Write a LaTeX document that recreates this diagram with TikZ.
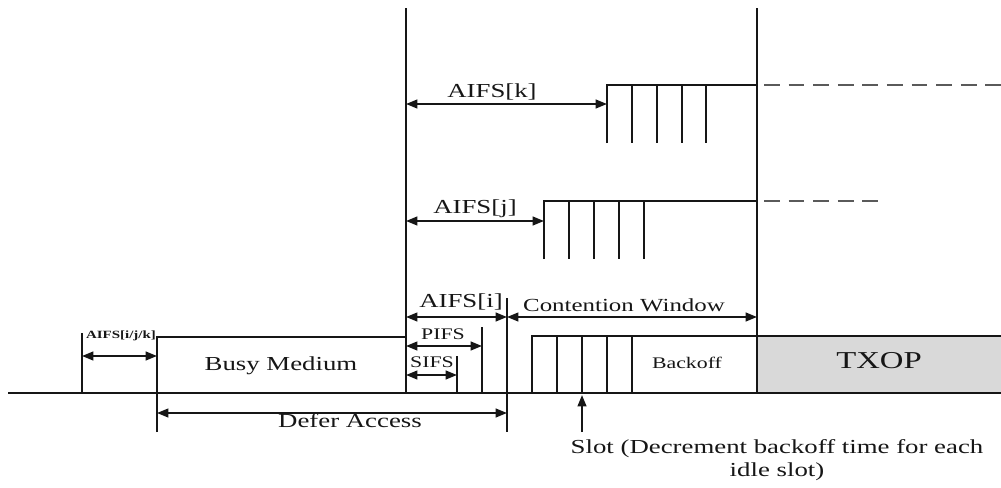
\documentclass[tikz,border=0pt]{standalone}
\usepackage{fontspec}
\setmainfont{Liberation Serif}[FakeStretch=1.35]
\usetikzlibrary{arrows.meta,positioning}
\definecolor{ink}{HTML}{161616}
\definecolor{dashgray}{HTML}{5A5A5A}
\definecolor{txopfill}{HTML}{D9D9D9}
\tikzset{
  wire/.style={line width=1.1pt,draw=ink},
  span/.style={{Triangle[length=6.5pt,width=5pt]}-{Triangle[length=6.5pt,width=5pt]},line width=1.1pt,draw=ink},
  pointer/.style={-{Triangle[length=6.5pt,width=5pt]},line width=1.1pt,draw=ink},
  future/.style={line width=1.1pt,draw=dashgray,dash pattern=on 9pt off 5pt},
  tag/.style={font=\fontsize{11.3}{13}\selectfont,text=ink,inner sep=0pt,text height=1.5ex,text depth=.25ex},
  smalltag/.style={font=\fontsize{9.2}{11}\selectfont,text=ink,inner sep=0pt,text height=1.5ex,text depth=.25ex},
  tinytag/.style={font=\fontsize{6.3}{7}\selectfont\bfseries,text=ink,inner sep=0pt}
}
\begin{document}
\begin{tikzpicture}[x=0.02cm,y=-0.02cm]
        \useasboundingbox (0,0) rectangle (1001,487);
        % time axis and the two frame boundaries
        \coordinate (axisL) at (8,393);
        \coordinate (axisR) at (1001,393);
        \coordinate (idleTop) at (406,8);
        \coordinate (idle) at (406,393);
        \coordinate (txopTop) at (757,8);
        \coordinate (txop) at (757,393);
        \fill[txopfill] (757,336) rectangle (1001,393);
        \draw[wire] (757,336) -- (1001,336);
        \draw[wire] (axisL) -- (axisR);
        \draw[wire] (idleTop) -- (idle);
        \draw[wire] (txopTop) -- (txop);

        % busy medium
        \coordinate (busyL) at (157,432);
        \draw[wire] (busyL) |- (406,337);
        \node[tag] (busy) at (281,365) {Busy Medium};
        \coordinate (aifsL) at (82,333);
        \draw[wire] (aifsL) -- (82,393);
        \draw[span] (82,356) -- (157,356);
        \node[tinytag] (aifsAll) at (121,336) {AIFS[i/j/k]};

        % SIFS, PIFS, AIFS[i]
        \coordinate (sifs) at (457,356);
        \coordinate (pifs) at (482,327);
        \coordinate (aifsI) at (507,298);
        \draw[wire] (sifs) -- (457,393);
        \draw[wire] (pifs) -- (482,393);
        \draw[wire] (aifsI) -- (507,432);
        \draw[span] (406,375) -- (sifs |- 0,375);
        \draw[span] (406,346) -- (pifs |- 0,346);
        \draw[span] (406,317) -- (aifsI |- 0,317);
        \node[smalltag] (sifsLbl) at (432,362) {SIFS};
        \node[smalltag] (pifsLbl) at (443,334) {PIFS};
        \node[tag] (aifsILbl) at (461,302) {AIFS[i]};

        % defer access
        \draw[span] (157,413) -- (507,413);
        \node[tag] (defer) at (350,422) {Defer Access};

        % contention window and backoff slots
        \draw[span] (507,317) -- (757,317);
        \node[tag,font=\fontsize{10.5}{12}\selectfont] (cw) at (624,306) {Contention Window};
        \draw[wire] (532,393) |- (757,336);
        \foreach \sx in {557,582,607,632}
          \draw[wire] (\sx,336) -- (\sx,393);
        \node[smalltag] (backoff) at (687,363) {Backoff};
        \node[tag,font=\fontsize{13.8}{16}\selectfont] (txopLbl) at (879,363) {TXOP};

        % slot pointer
        \coordinate (slotBase) at (582,432);
        \draw[pointer] (slotBase) -- (582,395);
        \node[tag,align=center,text height=,text depth=] (slot) at (777,460) {Slot (Decrement backoff time for each\\idle slot)};

        % AIFS[j]
        \draw[wire] (544,259) |- (757,201);
        \foreach \sx in {569,594,619,644}
          \draw[wire] (\sx,201) -- (\sx,259);
        \draw[span] (406,221) -- (544,221);
        \node[tag] (aifsJ) at (475,208) {AIFS[j]};
        \draw[future] (764,201) -- (882,201);

        % AIFS[k]
        \draw[wire] (607,143) |- (757,85);
        \foreach \sx in {632,657,682,706}
          \draw[wire] (\sx,85) -- (\sx,143);
        \draw[span] (406,104) -- (607,104);
        \node[tag] (aifsK) at (492,92) {AIFS[k]};
        \draw[future] (764,85) -- (1001,85);
      \end{tikzpicture}
\end{document}
